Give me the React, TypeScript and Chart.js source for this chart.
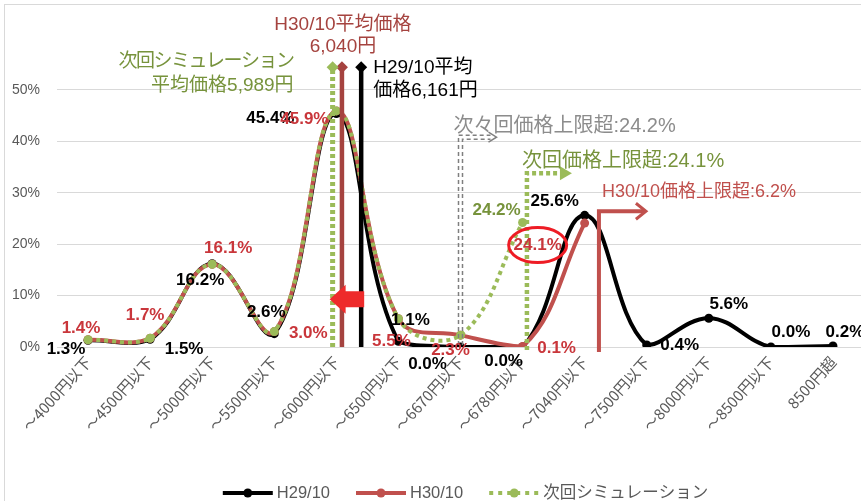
import React, { useEffect, useRef } from 'react';
import { Chart, registerables } from 'chart.js';

Chart.register(...registerables);

// ---------- data ----------
const categories = [
  '～4000円以下', '～4500円以下', '～5000円以下', '～5500円以下', '～6000円以下',
  '～6500円以下', '～6670円以下', '～6780円以下', '～7040円以下', '～7500円以下',
  '～8000円以下', '～8500円以下', '8500円超',
];
const seriesNames = ['H29/10', 'H30/10', '次回シミュレーション'];
const h29Values = [1.3, 1.5, 16.2, 2.6, 45.4, 1.1, 0.0, 0.0, 25.6, 0.4, 5.6, 0.0, 0.2];
const h30Values = [1.4, 1.7, 16.1, 3.0, 45.9, 5.5, 2.3, 0.1, 24.1, null, null, null, null];
const simValues = [1.4, 1.7, 16.1, 3.0, 45.9, 5.5, 2.3, 24.2, null, null, null, null, null];
const yTickValues = [0, 10, 20, 30, 40, 50];
const yMax = 56;

// average price markers: position on the category axis (fractional index) and height (%)
const avgTexts = [
  ['次回シミュレーション', '平均価格5,989円'],
  ['H30/10平均価格', '6,040円'],
  ['H29/10平均', '価格6,161円'],
];
const avgIndex = [3.94, 4.09, 4.4];
const avgHeight = [54.4, 54.4, 54.4];

// upper-limit callouts
const limitTexts = ['次々回価格上限超:24.2%', '次回価格上限超:24.1%', 'H30/10価格上限超:6.2%'];
const limitIndex = [6.0, 7.07, 8.23];
const limitHeight = [40.8, 33.8, 26.4];

// ---------- styles ----------
const JP = "'Noto Sans CJK JP', sans-serif";
const LAT = "'Liberation Sans', 'Noto Sans CJK JP', sans-serif";
const C_H29 = '#000000';
const C_H30 = '#C0504D';
const C_SIM = '#9BBB59';
const avgColors = ['#9BBB59', '#A5433F', '#000000'];
const avgTextColors = ['#77933C', '#A5433F', '#000000'];
const avgTextAlign: CanvasTextAlign[] = ['right', 'center', 'left'];
const avgTextDx = [-39, 1, 12];
const avgTextDy = [[-5, 19], [-42, -20], [1, 24]];
const avgLetterSpacing = [[-1.5, 0], [0, 0], [0, 0]];

const h29LabelOff = [[-22, 9], [34, 10], [-12, 17], [-8, -21], [-66, 5], [12, -21], [-33, 17], [-19, 14], [-30, -14], [33, 0], [20, -14], [20, -15], [12, -14]];
const h30LabelOff = [[-7, -11], [-5, -23], [16, -16], [34, 2], [-32, 8], [-7, 23], [-10, 15], [34, 2], [-47, 22]];
const simLabelShow = [false, false, false, false, false, false, false, true];
const simLabelOff = [[0, 0], [0, 0], [0, 0], [0, 0], [0, 0], [0, 0], [0, 0], [-26, -12]];

const CW = 900;
const CH = 501;

const overlayPlugin = {
  id: 'overlay',
  afterDatasetsDraw(chart: any) {
    const ctx: any = chart.ctx;
    const xs = chart.scales.x;
    const ys = chart.scales.y;
    const px = (i: number) => xs.getPixelForValue(i);
    const py = (v: number) => ys.getPixelForValue(v);
    ctx.save();

    // red block arrow from H29 average line to simulation average line
    {
      const y = py(9.3);
      const xr = px(avgIndex[2]) + 3;
      const xl = px(avgIndex[0]) - 3;
      ctx.fillStyle = '#EE2B2B';
      ctx.beginPath();
      ctx.moveTo(xl, y);
      ctx.lineTo(xl + 16, y - 14.5);
      ctx.lineTo(xl + 16, y - 8);
      ctx.lineTo(xr, y - 8);
      ctx.lineTo(xr, y + 8);
      ctx.lineTo(xl + 16, y + 8);
      ctx.lineTo(xl + 16, y + 14.5);
      ctx.closePath();
      ctx.fill();
    }

    // average texts
    for (let k = 0; k < 3; k++) {
      const x = px(avgIndex[k]);
      const y = py(avgHeight[k]);
      ctx.font = `19px ${LAT}`;
      ctx.fillStyle = avgTextColors[k];
      ctx.textAlign = avgTextAlign[k];
      ctx.textBaseline = 'middle';
      avgTexts[k].forEach((t, j) => {
        ctx.letterSpacing = avgLetterSpacing[k][j] + 'px';
        ctx.fillText(t, x + avgTextDx[k], y + avgTextDy[k][j]);
      });
      ctx.letterSpacing = '0px';
    }

    // limit callouts
    const y0 = py(0);
    ctx.textAlign = 'left';
    ctx.textBaseline = 'middle';
    // gray double dashed
    {
      const x = px(limitIndex[0]);
      const yt = py(limitHeight[0]);
      ctx.strokeStyle = '#7F7F7F';
      ctx.lineWidth = 1.5;
      ctx.setLineDash([4, 3]);
      for (const d of [-2, 2]) {
        ctx.beginPath();
        ctx.moveTo(x + d, y0 - 2);
        ctx.lineTo(x + d, yt + d);
        ctx.lineTo(x + 30, yt + d);
        ctx.stroke();
      }
      ctx.setLineDash([]);
      ctx.lineWidth = 1.5;
      ctx.beginPath();
      ctx.moveTo(x + 28, yt - 5);
      ctx.lineTo(x + 36, yt);
      ctx.lineTo(x + 28, yt + 5);
      ctx.stroke();
      ctx.font = `20px ${LAT}`;
      ctx.fillStyle = '#8C8C8C';
      ctx.fillText(limitTexts[0], x - 7, yt - 11);
    }
    // green dotted
    {
      const x = px(limitIndex[1]);
      const yt = py(limitHeight[1]);
      ctx.strokeStyle = C_SIM;
      ctx.lineWidth = 4.5;
      ctx.setLineDash([4, 3]);
      ctx.beginPath();
      ctx.moveTo(x, y0 + 3);
      ctx.lineTo(x, yt);
      ctx.lineTo(x + 34, yt);
      ctx.stroke();
      ctx.setLineDash([]);
      ctx.fillStyle = C_SIM;
      ctx.beginPath();
      ctx.moveTo(x + 33, yt - 7);
      ctx.lineTo(x + 45, yt);
      ctx.lineTo(x + 33, yt + 7);
      ctx.closePath();
      ctx.fill();
      ctx.font = `20px ${LAT}`;
      ctx.fillStyle = '#77933C';
      ctx.fillText(limitTexts[1], x - 5, yt - 12);
    }
    // red solid
    {
      const x = px(limitIndex[2]);
      const yt = py(limitHeight[2]);
      ctx.strokeStyle = C_H30;
      ctx.lineWidth = 4;
      ctx.beginPath();
      ctx.moveTo(x, y0 + 5);
      ctx.lineTo(x, yt);
      ctx.lineTo(x + 46, yt);
      ctx.stroke();
      ctx.lineWidth = 3;
      ctx.beginPath();
      ctx.moveTo(x + 37, yt - 8);
      ctx.lineTo(x + 47, yt);
      ctx.lineTo(x + 37, yt + 8);
      ctx.stroke();
      ctx.font = `18px ${LAT}`;
      ctx.fillStyle = C_H30;
      ctx.fillText(limitTexts[2], x + 3, yt - 19);
    }

    // data labels
    ctx.font = `bold 17px ${LAT}`;
    ctx.textAlign = 'center';
    ctx.textBaseline = 'middle';
    const drawLabels = (vals: (number | null)[], off: number[][], color: string, show?: boolean[]) => {
      ctx.fillStyle = color;
      vals.forEach((v, i) => {
        if (v === null || !off[i]) return;
        if (show && !show[i]) return;
        ctx.fillText(v.toFixed(1) + '%', px(i) + off[i][0], py(v) + off[i][1]);
      });
    };
    drawLabels(h29Values, h29LabelOff, '#000000');
    drawLabels(h30Values, h30LabelOff, '#C9363B');
    drawLabels(simValues, simLabelOff, '#77933C', simLabelShow);

    // red ellipse around H30 upper-limit label
    {
      const i = 8;
      const cx = px(i) + h30LabelOff[i][0];
      const cy = py(h30Values[i] as number) + h30LabelOff[i][1];
      ctx.strokeStyle = '#EE1C25';
      ctx.lineWidth = 3;
      ctx.beginPath();
      ctx.ellipse(cx, cy, 29, 17.5, 0, 0, Math.PI * 2);
      ctx.stroke();
    }

    // legend
    {
      const ly = 493;
      ctx.font = `16.5px ${LAT}`;
      ctx.textAlign = 'left';
      ctx.textBaseline = 'middle';
      const sampleW = 50, gapT = 4, gapI = 26;
      const widths = seriesNames.map((n) => ctx.measureText(n).width);
      const total = widths.reduce((a, b) => a + b, 0) + 3 * (sampleW + gapT) + 2 * gapI;
      let x = (chart.chartArea.left + chart.chartArea.right) / 2 + 5 - total / 2;
      const cols = [C_H29, C_H30, C_SIM];
      for (let k = 0; k < 3; k++) {
        ctx.strokeStyle = cols[k];
        ctx.fillStyle = cols[k];
        ctx.lineWidth = 4;
        ctx.setLineDash(k === 2 ? [4, 5] : []);
        ctx.beginPath();
        ctx.moveTo(x, ly);
        ctx.lineTo(x + sampleW, ly);
        ctx.stroke();
        ctx.setLineDash([]);
        ctx.beginPath();
        ctx.arc(x + sampleW / 2, ly, 4.5, 0, Math.PI * 2);
        ctx.fill();
        ctx.fillStyle = '#595959';
        ctx.fillText(seriesNames[k], x + sampleW + gapT, ly);
        x += sampleW + gapT + widths[k] + gapI;
      }
    }
    ctx.restore();
  },
};

export default function App() {
  const ref = useRef<HTMLCanvasElement>(null);
  useEffect(() => {
    if (!ref.current) return;
    const curve = (label: string, data: (number | null)[], color: string, order: number, dash: number[]) => ({
      type: 'line' as const,
      label,
      data,
      xAxisID: 'x',
      yAxisID: 'y',
      borderColor: color,
      backgroundColor: color,
      borderWidth: 4,
      borderDash: dash,
      tension: 0.4,
      pointRadius: 4.5,
      pointBorderWidth: 0,
      pointBackgroundColor: color,
      pointHoverRadius: 4.5,
      spanGaps: false,
      order,
    });
    const avgDatasets = avgIndex.map((xi, k) => ({
      type: 'line' as const,
      label: 'avg' + k,
      xAxisID: 'x2',
      yAxisID: 'y',
      data: [{ x: xi, y: 0 }, { x: xi, y: avgHeight[k] }],
      borderColor: avgColors[k],
      backgroundColor: avgColors[k],
      borderWidth: k === 0 ? 5 : 4.5,
      borderDash: k === 0 ? [4, 3] : [],
      pointRadius: [0, 6],
      pointStyle: 'rectRot',
      pointBorderWidth: 0,
      tension: 0,
      order: 0,
    }));
    const chart = new Chart(ref.current, {
      type: 'line',
      data: {
        labels: categories,
        datasets: [
          curve(seriesNames[0], h29Values, C_H29, 3, []),
          curve(seriesNames[1], h30Values, C_H30, 2, []),
          curve(seriesNames[2], simValues, C_SIM, 1, [4, 4]),
          ...avgDatasets,
        ] as any,
      },
      options: {
        animation: false,
        responsive: false,
        devicePixelRatio: 1,
        events: [],
        layout: { padding: { top: 59, right: CW - 864, bottom: 0, left: 0 } },
        plugins: { legend: { display: false }, tooltip: { enabled: false }, title: { display: false } },
        scales: {
          x: {
            type: 'category',
            offset: true,
            grid: { display: false, drawTicks: false },
            border: { display: false },
            ticks: {
              color: '#595959',
              font: { family: JP, size: 15 },
              minRotation: 48,
              maxRotation: 48,
              autoSkip: false,
              padding: 6,
            },
            afterFit: (s: any) => { s.height = 154; },
          },
          x2: {
            type: 'linear',
            display: false,
            min: -0.5,
            max: 12.5,
          },
          y: {
            type: 'linear',
            min: 0,
            max: yMax,
            grid: { color: '#D9D9D9', lineWidth: 1, drawTicks: false },
            border: { display: false },
            afterBuildTicks: (s: any) => { s.ticks = yTickValues.map((v) => ({ value: v })); },
            ticks: {
              color: '#595959',
              font: { family: LAT, size: 14 },
              padding: 17,
              callback: (v: any) => v + '%',
            },
            afterFit: (s: any) => { s.width = 57; },
          },
        },
      } as any,
      plugins: [overlayPlugin],
    });
    return () => chart.destroy();
  }, []);
  return (
    <div style={{ position: 'fixed', left: 0, top: 0, width: 861, height: 501, overflow: 'hidden', background: '#fff' }}>
      <div style={{ position: 'absolute', left: 4, top: 4, width: 1000, height: 1000, border: '1px solid #D9D9D9' }} />
      <canvas ref={ref} width={CW} height={CH} style={{ position: 'absolute', left: 0, top: 0, width: CW, height: CH }} />
    </div>
  );
}
